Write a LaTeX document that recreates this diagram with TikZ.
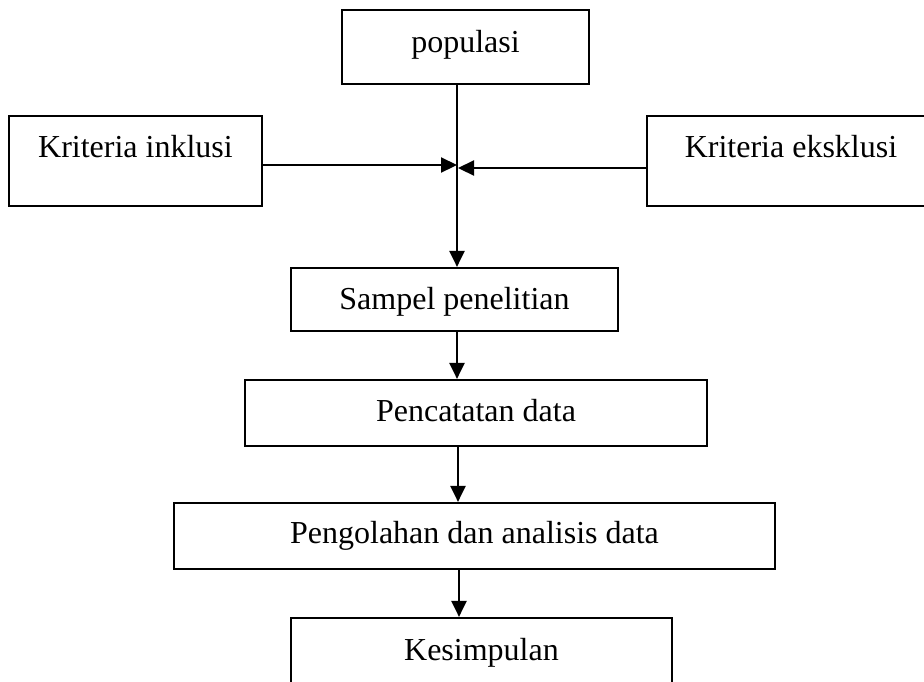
\documentclass[tikz,border=0pt]{standalone}
\usepackage{fontspec}
\setmainfont{Liberation Serif}
\usetikzlibrary{arrows.meta}
\begin{document}
\begin{tikzpicture}[x=1pt,y=-1pt,
  box/.style={draw=black, line width=2.2pt, inner sep=0pt, fill=white,
    font=\fontsize{32}{36}\selectfont},
  arr/.style={line width=2.2pt, -{Triangle[length=16pt,width=15pt]}}]
\useasboundingbox (0,0) rectangle (924,681);
\clip (0,0) rectangle (924,681);
\fill[white] (0,0) rectangle (924,681);
% boxes
\node[box, minimum width=247pt, minimum height=74pt, text height=20pt, text depth=10pt] (pop) at (465.5,47) {populasi};
\node[box, minimum width=253pt, minimum height=90pt, text height=14pt, text depth=22pt] (ink) at (135.5,161) {Kriteria inklusi};
\node[box, minimum width=288pt, minimum height=90pt, text height=14pt, text depth=22pt] (eks) at (791,161) {Kriteria eksklusi};
\node[box, minimum width=327pt, minimum height=63pt, text height=25pt, text depth=6pt] (smp) at (454.5,299.5) {Sampel penelitian};
\node[box, minimum width=462pt, minimum height=66pt, text height=22pt, text depth=6pt] (pen) at (476,413) {Pencatatan data};
\node[box, minimum width=601pt, minimum height=66pt, text height=20pt, text depth=6pt] (olah) at (474.5,536) {Pengolahan dan analisis data};
\node[box, minimum width=381pt, minimum height=70pt, text height=20pt, text depth=6pt] (kes) at (481.5,653) {Kesimpulan};
% junction points
\coordinate (jl) at (457,165);
\coordinate (jr) at (458,168);
\coordinate (c1) at (457,0);
\coordinate (c2) at (458,0);
\coordinate (c3) at (459,0);
% connectors
\draw[arr] (pop.south -| c1) -- (smp.north -| c1);
\draw[arr] (ink.east |- jl) -- (jl);
\draw[arr] (eks.west |- jr) -- (jr);
\draw[arr] (smp.south -| c1) -- (pen.north -| c1);
\draw[arr] (pen.south -| c2) -- (olah.north -| c2);
\draw[arr] (olah.south -| c3) -- (kes.north -| c3);
\end{tikzpicture}
\end{document}
